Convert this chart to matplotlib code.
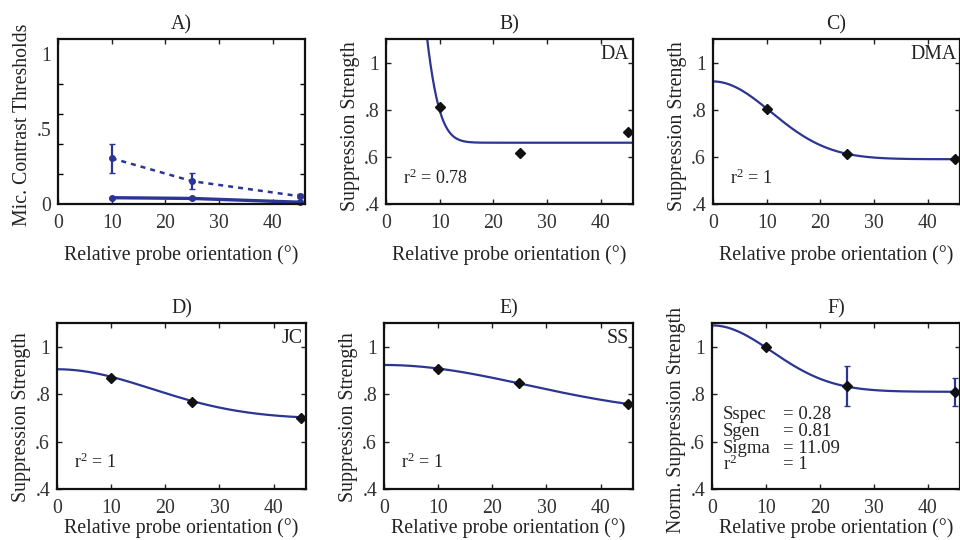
import numpy as np
import matplotlib
matplotlib.use("Agg")
import matplotlib.pyplot as plt
from matplotlib.ticker import FixedLocator

plt.rcParams['font.family'] = ['Liberation Serif', 'DejaVu Serif']
plt.rcParams['mathtext.fontset'] = 'custom'
plt.rcParams['mathtext.rm'] = 'Liberation Serif'
plt.rcParams['mathtext.it'] = 'Liberation Serif:italic'
FS = 14.3
BLUE = '#2b3592'
TXT = '#222222'

# ---------- data ----------
orient = [10, 25, 45]

# Panel A: contrast thresholds
a_dotted = [0.305, 0.152, 0.052]
a_dotted_err = [0.095, 0.055, 0.012]
a_solid = [0.042, 0.037, 0.012]
a_solid_err = [0.008, 0.006, 0.008]

# Panels B-E: suppression strength per observer
observers = ['DA', 'DMA', 'JC', 'SS']
obs_titles = ['B)', 'C)', 'D)', 'E)']
obs_values = {
    'DA': [0.810, 0.615, 0.705],
    'DMA': [0.805, 0.612, 0.592],
    'JC': [0.870, 0.767, 0.700],
    'SS': [0.908, 0.845, 0.760],
}
obs_r2 = {'DA': '0.78', 'DMA': '1', 'JC': '1', 'SS': '1'}
# Gaussian fit parameters (Sspec, Sgen, Sigma)
obs_fit = {
    'DA': (2.33, 0.66, 4.2),
    'DMA': (0.33, 0.59, 10.8),
    'JC': (0.21, 0.695, 17.5),
    'SS': (0.213, 0.71, 26.2),
}

# Panel F: normalised suppression strength
f_values = [1.0, 0.833, 0.810]
f_err_low = [0.01, 0.085, 0.06]
f_err_high = [0.01, 0.087, 0.06]
f_fit = (0.28, 0.81, 11.09)
f_labels = ['Sspec', 'Sgen', 'Sigma', r'r$^{\mathrm{2}}$']
f_texts = ['= 0.28', '= 0.81', '= 11.09', '= 1']

xticks = [0, 10, 20, 30, 40]
XMAX = 46


def gauss(x, sspec, sgen, sigma):
    return sgen + sspec * np.exp(-x ** 2 / (2 * sigma ** 2))


def style(ax, yticks, ylabels, minor_y=None):
    ax.set_xlim(0, XMAX)
    ax.set_xticks(xticks)
    ax.set_xticklabels([str(t) for t in xticks])
    ax.set_yticks(yticks)
    ax.set_yticklabels(ylabels)
    if minor_y is not None:
        ax.yaxis.set_minor_locator(FixedLocator(minor_y))
        ax.tick_params(axis='y', which='major', length=0)
        ax.tick_params(axis='y', which='minor', length=3.5, direction='in',
                       left=True, right=True, width=1)
    else:
        ax.tick_params(axis='y', length=3.5)
    ax.tick_params(direction='in', top=True, right=True, labelsize=FS,
                   width=1, colors=TXT, labelcolor='#333333')
    ax.tick_params(axis='x', length=3.5, pad=7)
    ax.tick_params(axis='y', pad=5)
    for s in ax.spines.values():
        s.set_linewidth(1.6)
        s.set_color('#111111')


fig = plt.figure(figsize=(9.6, 5.4), dpi=100)
W = 960.0
H = 540.0


def add_ax(l, r, t, b):
    return fig.add_axes([l / W, 1 - b / H, (r - l) / W, (b - t) / H])


top_t, top_b = 39, 204
bot_t, bot_b = 323, 489
axA = add_ax(58, 305, top_t, top_b)
axB = add_ax(386, 633, top_t, top_b)
axC = add_ax(713, 960, top_t, top_b)
axD = add_ax(57, 306, bot_t, bot_b)
axE = add_ax(384, 633, bot_t, bot_b)
axF = add_ax(712, 960, bot_t, bot_b)

xlabel = 'Relative probe orientation (°)'

# ---- Panel A ----
axA.errorbar(orient, a_dotted, yerr=a_dotted_err, color=BLUE, ls=(0, (2, 2)),
             lw=1.8, marker='o', ms=4, capsize=2.5, elinewidth=1.6, clip_on=False)
axA.errorbar(orient, a_solid, yerr=a_solid_err, color=BLUE, ls='-', lw=2.4,
             marker='o', ms=4, capsize=2.5, elinewidth=1.6, clip_on=False)
axA.set_ylim(0, 1.1)
style(axA, [0, 0.5, 1], ['0', '.5', '1'], minor_y=[0, 0.2, 0.4, 0.6, 0.8, 1.0])
axA.set_title('A)', fontsize=FS, pad=7, color=TXT)
axA.set_ylabel('Mic. Contrast Thresholds', fontsize=FS, labelpad=3, color=TXT)
axA.yaxis.label.set_y(0.479)
axA.set_xlabel(xlabel, fontsize=FS, labelpad=9, color=TXT)

# ---- Panels B-E ----
xs = np.linspace(0, XMAX, 400)
ylab_y = {'DA': 0.473, 'DMA': 0.473, 'JC': 0.43, 'SS': 0.43}
for ax, obs, ttl, row in zip([axB, axC, axD, axE], observers, obs_titles,
                             ['top', 'top', 'bot', 'bot']):
    ax.plot(xs, gauss(xs, *obs_fit[obs]), color=BLUE, lw=1.6)
    ax.plot(orient, obs_values[obs], ls='none', marker='D', ms=5.5,
            color='#111111', clip_on=False, zorder=5)
    ax.set_ylim(0.4, 1.1)
    style(ax, [0.4, 0.6, 0.8, 1.0], ['.4', '.6', '.8', '1'])
    ax.set_title(ttl, fontsize=FS, pad=7, color=TXT)
    ax.set_ylabel('Suppression Strength', fontsize=FS, labelpad=3, color=TXT)
    ax.yaxis.label.set_y(ylab_y[obs])
    ax.set_xlabel(xlabel, fontsize=FS, labelpad=9 if row == 'top' else 0,
                  color=TXT)
    ax.text(0.985, 0.965, obs, transform=ax.transAxes, ha='right', va='top',
            fontsize=FS, color=TXT)
    ax.text(0.07, 0.1, r'r$^{\mathrm{2}}$ = ' + obs_r2[obs], transform=ax.transAxes,
            ha='left', va='bottom', fontsize=13, color=TXT)

# ---- Panel F ----
axF.plot(xs, gauss(xs, *f_fit), color=BLUE, lw=1.6)
axF.errorbar(orient, f_values, yerr=[f_err_low, f_err_high], ls='none',
             ecolor=BLUE, elinewidth=1.6, capsize=2.5, marker='D', ms=5.5,
             mfc='#111111', mec='#111111', clip_on=False, zorder=5)
axF.set_ylim(0.4, 1.1)
style(axF, [0.4, 0.6, 0.8, 1.0], ['.4', '.6', '.8', '1'])
axF.set_title('F)', fontsize=FS, pad=7, color=TXT)
axF.set_ylabel('Norm. Suppression Strength', fontsize=FS, labelpad=3, color=TXT)
axF.yaxis.label.set_y(0.416)
axF.set_xlabel(xlabel, fontsize=FS, labelpad=0, color=TXT)
for i, (lab, txt) in enumerate(zip(f_labels, f_texts)):
    y = 0.446 - i * 0.1
    axF.text(0.043, y, lab, transform=axF.transAxes, ha='left', va='center',
             fontsize=13.5, color=TXT)
    axF.text(0.285, y, txt, transform=axF.transAxes, ha='left', va='center',
             fontsize=13.5, color=TXT)

fig.savefig('out.png', dpi=100)
